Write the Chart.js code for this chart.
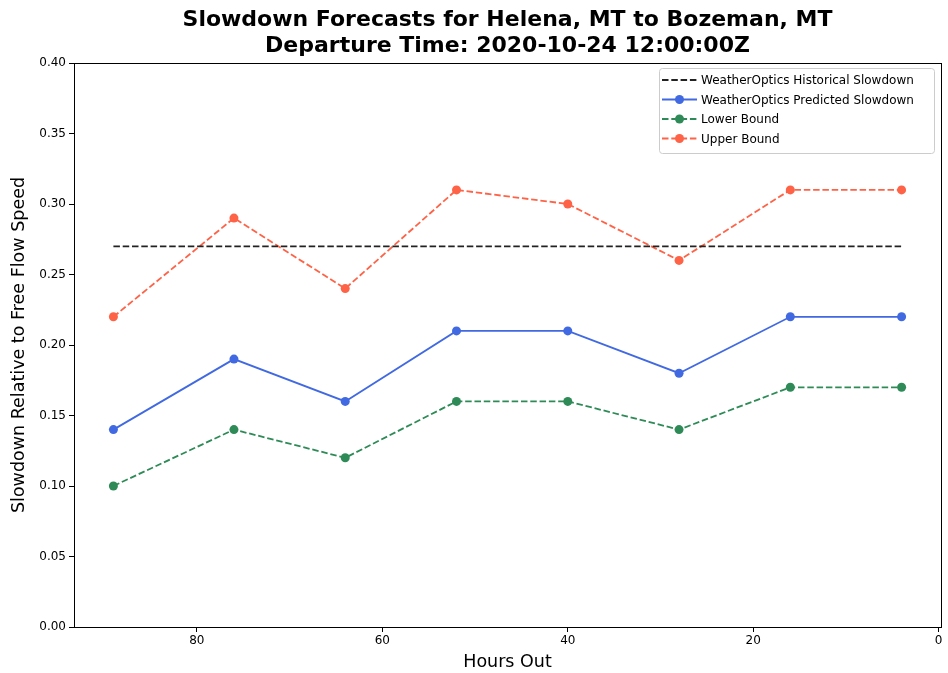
<!DOCTYPE html>
<html lang="en">
<head>
    <meta charset="UTF-8">
    <title>Slowdown Forecasts for Helena, MT to Bozeman, MT</title>
    <script src="https://cdn.jsdelivr.net/npm/chart.js@4.4.4/dist/chart.umd.min.js"></script>
    <style>
        html, body { margin: 0; padding: 0; background: #fff; }
        #wrap { width: 948px; height: 673px; }
    </style>
</head>
<body>
<div id="wrap"><canvas id="slowdown-chart" width="948" height="673"></canvas></div>
<script>
// Datos
const hoursOut = [89, 76, 64, 52, 40, 28, 16, 4];
const historical = [0.27, 0.27, 0.27, 0.27, 0.27, 0.27, 0.27, 0.27];
const predicted = [0.14, 0.19, 0.16, 0.21, 0.21, 0.18, 0.22, 0.22];
const lowerBound = [0.10, 0.14, 0.12, 0.16, 0.16, 0.14, 0.17, 0.17];
const upperBound = [0.22, 0.29, 0.24, 0.31, 0.30, 0.26, 0.31, 0.31];
const xTicks = [80, 60, 40, 20, 0];
const yTicks = [0, 0.05, 0.10, 0.15, 0.20, 0.25, 0.30, 0.35, 0.40];
const titleLines = ['Slowdown Forecasts for Helena, MT to Bozeman, MT', 'Departure Time: 2020-10-24 12:00:00Z'];

const FONT = "'DejaVu Sans', sans-serif";
const DASH = [6.5, 2.8];

function toPoints(values) {
    return hoursOut.map((h, i) => ({ x: h, y: values[i] }));
}

// Título y marco completo (estilo matplotlib)
const framePlugin = {
    id: 'frame',
    afterDraw(chart) {
        const { ctx, chartArea: a } = chart;
        ctx.save();
        ctx.strokeStyle = '#000';
        ctx.lineWidth = 1;
        ctx.strokeRect(Math.round(a.left) + 0.5, Math.round(a.top) + 0.5, Math.round(a.right - a.left), Math.round(a.bottom - a.top));
        ctx.fillStyle = '#000';
        ctx.font = 'bold 22px ' + FONT;
        ctx.textAlign = 'center';
        ctx.textBaseline = 'middle';
        const cx = (a.left + a.right) / 2;
        ctx.fillText(titleLines[0], cx, 20);
        ctx.fillText(titleLines[1], cx, 46);
        ctx.restore();
    }
};

// Leyenda dentro del área del gráfico, arriba a la derecha
const legendPlugin = {
    id: 'innerLegend',
    afterDatasetsDraw(chart) {
        const { ctx } = chart;
        const x0 = 659, y0 = 68, w = 275, h = 85;
        ctx.save();
        ctx.fillStyle = 'rgba(255,255,255,0.8)';
        ctx.strokeStyle = '#cccccc';
        ctx.lineWidth = 1;
        ctx.beginPath();
        ctx.roundRect(x0 + 0.5, y0 + 0.5, w, h, 3);
        ctx.fill();
        ctx.stroke();
        ctx.font = '12px ' + FONT;
        ctx.textBaseline = 'middle';
        ctx.textAlign = 'left';
        chart.data.datasets.forEach((ds, i) => {
            const y = y0 + 12 + i * 19.5;
            ctx.strokeStyle = ds.borderColor;
            ctx.lineWidth = ds.borderWidth;
            ctx.setLineDash(ds.borderDash || []);
            ctx.beginPath();
            ctx.moveTo(x0 + 3, y);
            ctx.lineTo(x0 + 38, y);
            ctx.stroke();
            ctx.setLineDash([]);
            if (ds.pointRadius > 0) {
                ctx.fillStyle = ds.pointBackgroundColor;
                ctx.beginPath();
                ctx.arc(x0 + 20.5, y, ds.pointRadius, 0, Math.PI * 2);
                ctx.fill();
            }
            ctx.fillStyle = '#000';
            ctx.fillText(ds.label, x0 + 42, y + 1);
        });
        ctx.restore();
    }
};

function series(label, values, color, dashed, markers) {
    return {
        label: label,
        data: toPoints(values),
        borderColor: color,
        backgroundColor: color,
        pointBackgroundColor: color,
        pointBorderColor: color,
        borderWidth: 1.8,
        borderDash: dashed ? DASH : [],
        pointRadius: markers ? 4.5 : 0,
        pointBorderWidth: 0,
        tension: 0,
        fill: false
    };
}

const ctx = document.getElementById('slowdown-chart').getContext('2d');
new Chart(ctx, {
    type: 'line',
    data: {
        datasets: [
            series('WeatherOptics Historical Slowdown', historical, '#222222', true, false),
            series('WeatherOptics Predicted Slowdown', predicted, '#4169e1', false, true),
            series('Lower Bound', lowerBound, '#2e8b57', true, true),
            series('Upper Bound', upperBound, '#ff6347', true, true)
        ]
    },
    options: {
        responsive: false,
        animation: false,
        layout: { padding: { top: 63, right: 7, left: 0, bottom: 0 } },
        plugins: {
            legend: { display: false },
            title: { display: false },
            tooltip: { enabled: false }
        },
        scales: {
            x: {
                type: 'linear',
                reverse: true,
                min: -0.25,
                max: 93.25,
                afterBuildTicks(scale) { scale.ticks = xTicks.map(v => ({ value: v })); },
                afterFit(scale) { scale.height = 46; },
                ticks: { color: '#000', font: { family: FONT, size: 12 }, padding: 2, maxRotation: 0 },
                grid: { drawOnChartArea: false, tickLength: 5, color: '#000', tickColor: '#000' },
                border: { color: '#000', width: 1 },
                title: { display: true, text: 'Hours Out', color: '#000', font: { family: FONT, size: 17.5 }, padding: { top: 0, bottom: 0 } }
            },
            y: {
                min: 0,
                max: 0.40,
                afterBuildTicks(scale) { scale.ticks = yTicks.map(v => ({ value: v })); },
                afterFit(scale) { scale.width = 74; },
                ticks: {
                    color: '#000',
                    font: { family: FONT, size: 12 },
                    padding: 3,
                    callback: v => v.toFixed(2)
                },
                grid: { drawOnChartArea: false, tickLength: 5, color: '#000', tickColor: '#000' },
                border: { color: '#000', width: 1 },
                title: { display: true, text: 'Slowdown Relative to Free Flow Speed', color: '#000', font: { family: FONT, size: 17.5 }, padding: { top: 9, bottom: 0 } }
            }
        }
    },
    plugins: [framePlugin, legendPlugin]
});
</script>
</body>
</html>
